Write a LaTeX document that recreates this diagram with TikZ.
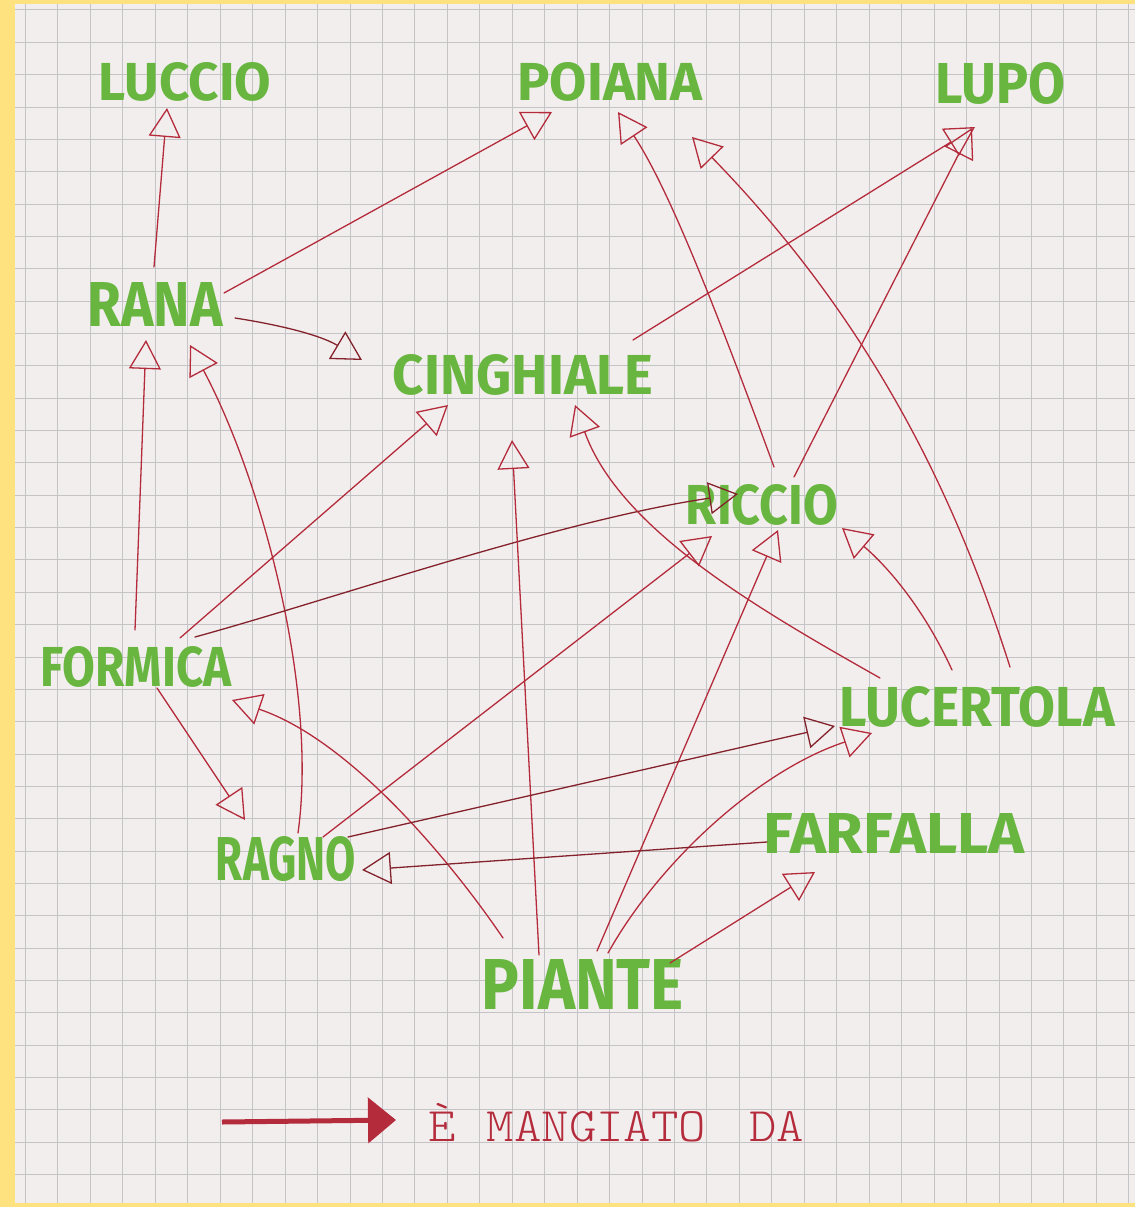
\documentclass[tikz,border=0pt]{standalone}
\usepackage{fontspec}
\setmainfont{Fira Sans}
\newfontfamily\legfont{lmmonolt10-regular.otf}
\usetikzlibrary{arrows.meta}
\definecolor{paper}{RGB}{243,238,238}
\definecolor{yell}{RGB}{255,226,128}
\definecolor{gridc}{RGB}{196,196,198}
\definecolor{mark}{RGB}{104,182,64}
\definecolor{pen}{RGB}{180,44,60}
\definecolor{pendark}{RGB}{132,34,44}
\begin{document}
\begin{tikzpicture}[x=1pt,y=-1pt,
  lab/.style={inner sep=0pt, text=mark, font=\bfseries},
  edge/.style={draw=pen, line width=1.3pt, line cap=round, line join=round,
    -{Triangle[open,length=29pt,width=32pt]}},
  darkedge/.style={edge, draw=pendark}]
\useasboundingbox (0,0) rectangle (1135,1207);
\fill[yell] (0,0) rectangle (1135,1207);
\fill[paper] (15,4) rectangle (1135,1203);
\foreach \i in {0,...,34} \draw[gridc, line width=1pt] ({25.5+32.45*\i},4) -- ({25.5+32.45*\i},1203);
\foreach \j in {0,...,36} \draw[gridc, line width=1pt] (15,{10+32.35*\j}) -- (1135,{10+32.35*\j});

% species
\node[lab] (luccio)    at (185,82)  {\resizebox{172pt}{38pt}{LUCCIO}};
\node[lab] (poiana)    at (610,82)  {\resizebox{185pt}{38pt}{POIANA}};
\node[lab] (lupo)      at (1000,83) {\resizebox{130pt}{41pt}{LUPO}};
\node[lab] (rana)      at (155,304) {\resizebox{135pt}{44pt}{RANA}};
\node[lab] (cinghiale) at (523,375) {\resizebox{260pt}{40pt}{CINGHIALE}};
\node[lab] (riccio)    at (762,505) {\resizebox{152pt}{40pt}{RICCIO}};
\node[lab] (formica)   at (136,667) {\resizebox{191pt}{40pt}{FORMICA}};
\node[lab] (lucertola) at (977,707) {\resizebox{275pt}{40pt}{LUCERTOLA}};
\node[lab] (farfalla)  at (894,833) {\resizebox{261pt}{40pt}{FARFALLA}};
\node[lab] (ragno)     at (286,859) {\resizebox{140pt}{44pt}{RAGNO}};
\node[lab] (piante)    at (583,984) {\resizebox{202pt}{50pt}{PIANTE}};

% food web
\draw[edge] ([shift={(-1,-37)}]rana.center) -- ([shift={(-18,26)}]luccio.center);
\draw[edge] ([shift={(69,-11)}]rana.center) -- ([shift={(-58,30)}]poiana.center);
\draw[darkedge] ([shift={(80,14)}]rana.center) .. controls +(45,7) and +(-42,-25) .. ([shift={(-161,-15)}]cinghiale.center);
\draw[edge] ([shift={(-1,-37)}]formica.center) -- ([shift={(-9,36)}]rana.center);
\draw[edge] ([shift={(12,-26)}]ragno.center) .. controls +(20,-143) and +(72,135) .. ([shift={(35,41)}]rana.center);
\draw[edge] ([shift={(44,-29)}]formica.center) -- ([shift={(-75,30)}]cinghiale.center);
\draw[darkedge] ([shift={(59,-30)}]formica.center) .. controls +(135,-37) and +(-178,26) .. ([shift={(-24,-11)}]riccio.center);
\draw[edge] ([shift={(21,21)}]formica.center) -- ([shift={(-41,-39)}]ragno.center);
\draw[edge] ([shift={(-80,-46)}]piante.center) .. controls +(-53,-78) and +(118,40) .. ([shift={(96,33)}]formica.center);
\draw[edge] ([shift={(-44,-29)}]piante.center) -- ([shift={(-11,65)}]cinghiale.center);
\draw[edge] ([shift={(14,-33)}]piante.center) -- ([shift={(16,25)}]riccio.center);
\draw[edge] ([shift={(25,-31)}]piante.center) .. controls +(52,-93) and +(-112,37) .. ([shift={(-105,26)}]lucertola.center);
\draw[edge] ([shift={(87,-21)}]piante.center) -- ([shift={(-79,39)}]farfalla.center);
\draw[edge] ([shift={(37,-22)}]ragno.center) -- ([shift={(-50,31)}]riccio.center);
\draw[darkedge] ([shift={(62,-22)}]ragno.center) -- ([shift={(-142,19)}]lucertola.center);
\draw[darkedge] ([shift={(-127,9)}]farfalla.center) -- ([shift={(76,11)}]ragno.center);
\draw[edge] ([shift={(-97,-29)}]lucertola.center) .. controls +(-120,-68) and +(45,125) .. ([shift={(52,30)}]cinghiale.center);
\draw[edge] ([shift={(-25,-37)}]lucertola.center) .. controls +(-32,-70) and +(38,32) .. ([shift={(80,23)}]riccio.center);
\draw[edge] ([shift={(33,-40)}]lucertola.center) .. controls +(-50,-157) and +(188,193) .. ([shift={(82,55)}]poiana.center);
\draw[edge] ([shift={(12,-38)}]riccio.center) .. controls +(-54,-147) and +(52,78) .. ([shift={(8,30)}]poiana.center);
\draw[edge] ([shift={(32,-28)}]riccio.center) -- ([shift={(-28,45)}]lupo.center);
\draw[edge] ([shift={(110,-35)}]cinghiale.center) -- ([shift={(-25,44)}]lupo.center);

% legend
\coordinate (legA) at (222,1122);
\coordinate (legB) at (396,1120);
\draw[pen, line width=5pt, -{Triangle[length=28pt,width=45pt]}] (legA) -- (legB);
\node[inner sep=0pt, text=pen] (legtext) at (616,1127)
  {\resizebox{376pt}{30pt}{\legfont\smash{È}\hspace{0.6em}MANGIATO\hspace{0.3em} DA}};
\end{tikzpicture}
\end{document}
